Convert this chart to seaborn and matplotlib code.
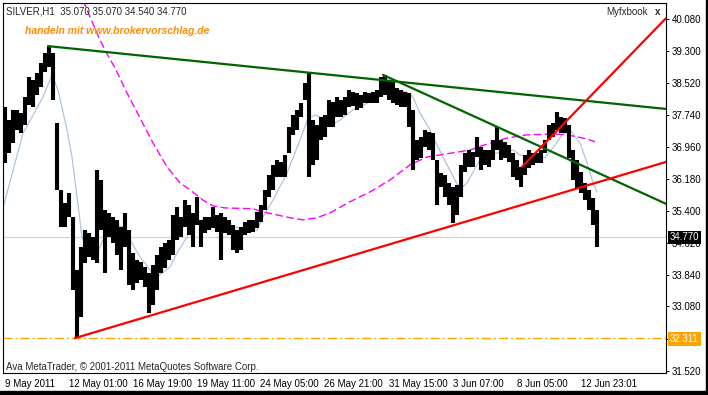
import numpy as np
import pandas as pd
import matplotlib
matplotlib.use("Agg")
import matplotlib.pyplot as plt
import matplotlib.transforms as mtransforms
from matplotlib.patches import Rectangle
import seaborn as sns

# SILVER H1, bars grouped by 4 hours: high / low of each group
bar_high = [37.94, 37.62, 37.87, 37.87, 37.79, 38.18, 38.67, 38.60, 38.77, 39.01,
            39.25, 39.42, 39.25, 37.55, 35.92, 35.60, 35.84, 35.26, 33.97, 34.53,
            34.94, 34.87, 34.77, 36.40, 36.16, 35.43, 35.36, 35.26, 35.19, 35.02,
            35.36, 34.94, 34.38, 34.21, 34.17, 34.04, 33.90, 34.09, 34.34, 34.53,
            34.63, 34.70, 35.31, 35.50, 35.26, 35.67, 35.55, 35.36, 35.75, 35.19,
            35.26, 35.26, 35.50, 35.31, 35.36, 35.26, 35.19, 35.07, 34.94, 35.02,
            35.14, 35.19, 35.19, 35.38, 35.55, 35.92, 36.28, 36.53, 36.65, 36.60,
            36.77, 37.45, 37.74, 37.87, 38.04, 38.52, 38.77, 37.62, 37.50, 37.69,
            37.74, 38.11, 38.06, 38.18, 38.11, 38.18, 38.35, 38.30, 38.28, 38.23,
            38.30, 38.28, 38.30, 38.35, 38.67, 38.72, 38.60, 38.55, 38.40, 38.35,
            38.30, 38.28, 37.87, 37.13, 37.21, 37.38, 37.33, 37.31, 36.65, 36.33,
            36.28, 36.09, 35.99, 36.04, 36.53, 36.82, 36.89, 36.84, 37.21, 36.96,
            36.89, 36.89, 37.13, 37.45, 37.13, 37.09, 37.01, 36.82, 36.65, 36.48,
            36.77, 36.89, 36.82, 36.82, 36.89, 37.13, 37.50, 37.55, 37.82, 37.69,
            37.67, 37.50, 36.89, 36.65, 36.36, 36.09, 35.92, 35.72, 35.43]
bar_low = [36.58, 36.82, 37.06, 37.38, 37.31, 37.50, 37.99, 37.94, 38.23, 38.42,
           38.79, 38.91, 38.11, 35.92, 35.02, 35.02, 35.26, 33.48, 32.31, 32.83,
           34.14, 34.29, 34.21, 34.14, 34.94, 33.90, 34.77, 34.63, 34.34, 33.97,
           34.53, 33.61, 33.48, 33.65, 33.73, 33.56, 32.92, 33.12, 33.48, 33.90,
           34.02, 34.21, 34.34, 34.70, 34.77, 35.02, 34.82, 34.53, 35.07, 34.53,
           34.87, 34.94, 34.99, 34.90, 34.21, 34.87, 34.82, 34.46, 34.38, 34.46,
           34.82, 34.87, 34.90, 34.99, 35.14, 35.43, 35.75, 35.92, 36.23, 36.23,
           36.23, 36.82, 37.26, 37.38, 37.69, 38.11, 36.23, 36.53, 36.65, 37.13,
           37.21, 37.45, 37.45, 37.69, 37.69, 37.74, 37.94, 37.96, 37.87, 37.91,
           38.04, 38.04, 38.04, 38.04, 38.18, 38.23, 38.11, 38.04, 37.99, 37.94,
           37.94, 37.45, 36.40, 36.65, 36.70, 36.96, 36.89, 36.65, 35.55, 35.99,
           35.75, 35.55, 35.11, 35.31, 35.75, 36.36, 36.48, 36.48, 36.72, 36.40,
           36.53, 36.48, 36.65, 36.89, 36.65, 36.70, 36.60, 36.23, 36.16, 35.99,
           36.28, 36.45, 36.53, 36.58, 36.58, 36.82, 37.13, 37.21, 37.38, 37.31,
           37.31, 36.70, 36.16, 35.97, 35.84, 35.67, 35.43, 35.07, 34.54]
HOURS_PER_GROUP = 4

# moving averages (hour index, price)
ma_fast_hour = [0, 20, 29, 40, 49, 55, 64, 69, 74, 79, 84, 92, 97, 104, 112, 120,
                127, 137, 147, 154, 167, 174, 184, 190, 200, 210, 217, 230, 244,
                254, 260, 270, 284, 297, 305, 312, 320, 332, 337, 350, 367, 380,
                394, 404, 410, 417, 427, 434, 444, 452, 457, 464, 477, 487, 497,
                510, 517, 530, 542, 552, 559, 567, 577, 584, 590, 594]
ma_fast_val = [35.48, 37.30, 37.69, 38.18, 38.72, 38.35, 37.38, 36.72, 35.75, 34.77,
               34.46, 34.26, 34.53, 34.94, 35.07, 35.02, 34.70, 34.29, 33.97, 33.80,
               34.04, 34.38, 34.77, 35.11, 35.19, 35.11, 35.11, 35.02, 34.94, 34.94,
               35.26, 35.67, 36.33, 37.13, 37.67, 37.74, 37.67, 37.55, 37.62, 37.87,
               38.06, 38.28, 38.33, 38.30, 38.18, 37.79, 37.38, 37.01, 36.53, 36.16,
               35.92, 36.09, 36.65, 36.77, 36.84, 36.89, 36.77, 36.70, 36.70, 37.01,
               37.26, 37.38, 37.06, 36.58, 36.09, 35.87]
ma_slow_hour = [80, 87, 97, 104, 112, 124, 137, 150, 164, 177, 187, 200, 210, 222,
                250, 260, 274, 287, 300, 314, 327, 347, 367, 387, 407, 424, 442,
                467, 487, 504, 524, 552, 564, 574, 584, 592]
ma_slow_val = [40.54, 40.13, 39.57, 39.23, 38.89, 38.28, 37.67, 37.06, 36.48, 36.09,
               35.92, 35.67, 35.53, 35.48, 35.46, 35.38, 35.31, 35.24, 35.19, 35.24,
               35.36, 35.63, 35.87, 36.16, 36.53, 36.72, 36.79, 36.89, 37.06, 37.18,
               37.26, 37.28, 37.26, 37.21, 37.16, 37.09]

# trend lines: (start hour, end hour), (start price, end price)
green_top = ([45, 663], [39.42, 37.89])
green_mid = ([380, 663], [38.72, 35.58])
red_base = ([72, 663], [32.31, 36.60])
red_steep = ([519, 663], [36.48, 40.10])

last_price = 34.770
support_level = 32.311

time_ticks = [0, 64, 128, 192, 255, 319, 384, 448, 512, 576]
time_labels = ["9 May 2011", "12 May 01:00", "16 May 19:00", "19 May 11:00",
               "24 May 05:00", "26 May 21:00", "31 May 15:00", "3 Jun 07:00",
               "8 Jun 05:00", "12 Jun 23:01"]
# the 32.300 grid label sits under the support box, so it is left blank
price_ticks = [40.08, 39.30, 38.52, 37.74, 36.96, 36.18, 35.40, 34.62, 33.84,
               33.08, 32.30, 31.52]
price_labels = ["40.080", "39.300", "38.520", "37.740", "36.960", "36.180",
                "35.400", "34.620", "33.840", "33.080", "", "31.520"]

sns.set_style("white")
plt.rcParams["font.family"] = ["Liberation Sans", "DejaVu Sans"]
plt.rcParams["lines.scale_dashes"] = False

W, H = 708, 395
fig = plt.figure(figsize=(W / 100, H / 100), dpi=100)
ax = fig.add_axes([3 / W, 22 / H, 663 / W, 370 / H])

bars = pd.DataFrame({"high": bar_high, "low": bar_low})
bars["hour"] = bars.index * HOURS_PER_GROUP + HOURS_PER_GROUP / 2

# reference levels
ax.axhline(last_price, color="#D3D3D3", lw=0.9, zorder=1)
ax.axhline(support_level, color="#FFA500", lw=1.0, zorder=1,
           linestyle=(0, (6.5, 2.2, 1.4, 2.2)))

# moving averages
fast = pd.DataFrame({"hour": ma_fast_hour, "price": ma_fast_val})
slow = pd.DataFrame({"hour": ma_slow_hour, "price": ma_slow_val})
sns.lineplot(data=fast, x="hour", y="price", ax=ax, color="#B0C4DE", lw=0.9, zorder=2)
sns.lineplot(data=slow, x="hour", y="price", ax=ax, color="#FF00FF", lw=1.0, zorder=2,
             linestyle=(0, (5.5, 2.5)))

# price bars
ax.vlines(bars["hour"], bars["low"], bars["high"], colors="black", lw=2.95, zorder=3)

# trend lines
for (xs, ys), col in [(green_top, "#006400"), (green_mid, "#006400"),
                      (red_base, "#FF0000"), (red_steep, "#FF0000")]:
    sns.lineplot(x=xs, y=ys, ax=ax, color=col, lw=1.6, zorder=4)

ax.set_xlim(0, 663)
ax.set_ylim(31.46, 40.47)
ax.set_xlabel("")
ax.set_ylabel("")

for sp in ax.spines.values():
    sp.set_color("black")
    sp.set_linewidth(0.8)

ax.yaxis.tick_right()
ax.set_yticks(price_ticks, price_labels)
ax.set_xticks(time_ticks, time_labels)
ax.tick_params(axis="y", direction="out", length=2.5, width=0.7, pad=1.5,
               labelsize=7, colors="black")
ax.tick_params(axis="x", direction="out", length=3, width=0.7, pad=1,
               labelsize=7, colors="black")
offset = mtransforms.ScaledTranslation(2 / 100, 0, fig.dpi_scale_trans)
for lab in ax.get_xticklabels():
    lab.set_horizontalalignment("left")
    lab.set_transform(lab.get_transform() + offset)

# texts
def fx(px):
    return px / W

def fy(py):
    return 1 - py / H

fig.text(fx(6), fy(11), "SILVER,H1  35.070 35.070 34.540 34.770", fontsize=7,
         va="center", ha="left")
fig.text(fx(25), fy(31), "handeln mit www.brokervorschlag.de", fontsize=7.5,
         fontweight="bold", fontstyle="italic", color="#FF8C00", va="center", ha="left")
fig.text(fx(606), fy(12), "Myfxbook", fontsize=7, va="center", ha="left")
fig.text(fx(655), fy(12), "x", fontsize=7, fontweight="bold", va="center", ha="left")
fig.text(fx(6), fy(367), "Ava MetaTrader, \u00a9 2001-2011 MetaQuotes Software Corp.",
         fontsize=7, va="center", ha="left")

fig.text(fx(670), fy(237.5), f"{last_price:.3f}", fontsize=7, color="white",
         va="center", ha="left",
         bbox=dict(boxstyle="square,pad=0.18", fc="black", ec="none"))
fig.text(fx(670), fy(339), f"{support_level:.3f}", fontsize=7, color="white",
         va="center", ha="left",
         bbox=dict(boxstyle="square,pad=0.18", fc="#FFA500", ec="none"))

# window frame
fig.patches.append(Rectangle((0, 0), 1, 4 / H, transform=fig.transFigure,
                             color="black", zorder=10))
fig.patches.append(Rectangle((1 - 2 / W, 0), 2 / W, 1, transform=fig.transFigure,
                             color="black", zorder=10))

fig.savefig("out.png", dpi=100)
